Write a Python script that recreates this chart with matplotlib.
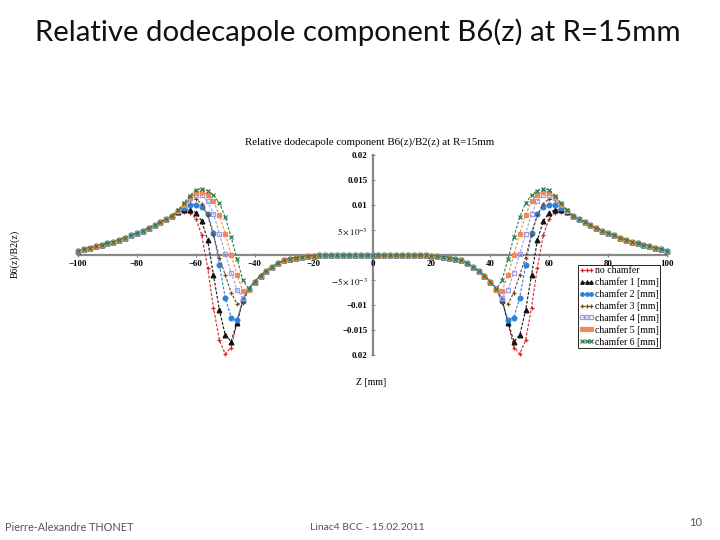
import numpy as np
import matplotlib
matplotlib.use('Agg')
import matplotlib.pyplot as plt

# sampling grid, z >= 0 half (the plot is mirror-symmetric around z = 0)
z_half = np.arange(0, 101, 2)

head = [0.0] * 10 + [-0.0001, -0.0002, -0.0003, -0.0005, -0.0007,
                     -0.0010, -0.0016, -0.0023, -0.0031, -0.0041, -0.0053]   # z = 0..40
tail = [0.0079, 0.0072, 0.0066, 0.0060, 0.0054, 0.0049, 0.0044, 0.0040,
        0.0035, 0.0031, 0.0027, 0.0024, 0.0021, 0.0018, 0.0015, 0.0012, 0.0009]  # z = 68..100

# z = 42..66 for every series
mid_no = [-0.0067, -0.0090, -0.0135, -0.0185, -0.0198, -0.0170, -0.0105,
          -0.0025, 0.0040, 0.0073, 0.0085, 0.0087, 0.0085]
mid_c1 = [-0.0067, -0.0090, -0.0135, -0.0173, -0.0160, -0.0110, -0.0040,
          0.0030, 0.0068, 0.0085, 0.0090, 0.0090, 0.0086]
mid_c2 = [-0.0067, -0.0090, -0.0130, -0.0125, -0.0085, -0.0020, 0.0045,
          0.0082, 0.0097, 0.0101, 0.0100, 0.0095, 0.0088]
mid_c3 = [-0.0067, -0.0095, -0.0098, -0.0075, -0.0040, -0.0005, 0.0040,
          0.0080, 0.0103, 0.0112, 0.0110, 0.0100, 0.0089]
mid_c4 = [-0.0067, -0.0085, -0.0070, -0.0035, 0.0002, 0.0043, 0.0082,
          0.0108, 0.0120, 0.0121, 0.0114, 0.0101, 0.0088]
mid_c5 = [-0.0070, -0.0072, -0.0040, 0.0000, 0.0043, 0.0080, 0.0108,
          0.0121, 0.0127, 0.0125, 0.0116, 0.0102, 0.0089]
mid_c6 = [-0.0068, -0.0050, -0.0008, 0.0036, 0.0076, 0.0104, 0.0120,
          0.0129, 0.0133, 0.0130, 0.0119, 0.0104, 0.0090]

labels = ['no chamfer', 'chamfer 1 [mm]', 'chamfer 2 [mm]', 'chamfer 3 [mm]',
          'chamfer 4 [mm]', 'chamfer 5 [mm]', 'chamfer 6 [mm]']
mids = [mid_no, mid_c1, mid_c2, mid_c3, mid_c4, mid_c5, mid_c6]

colors = ['#d0262a', '#111111', '#2f80d8', '#6b4a26', '#9d9de6', '#f08a55', '#2f7d4a']
markers = ['+', '^', 'o', '+', 's', 's', 'x']

fig = plt.figure(figsize=(7.2, 5.4), dpi=100)
plt.rcParams['mathtext.fontset'] = 'stix'

# slide title and footer
fig.text(0.497, 0.94, 'Relative dodecapole component B6(z) at R=15mm',
         ha='center', va='center', fontsize=21.2, family='Lato', color='#111111')
fig.text(0.007, 0.024, 'Pierre-Alexandre THONET', fontsize=7.8, family='Lato', color='#555555', va='center')
fig.text(0.43, 0.024, 'Linac4 BCC - 15.02.2011', fontsize=7.5, family='Lato', color='#555555', va='center')
fig.text(0.957, 0.032, '10', fontsize=8, family='Lato', color='#555555', va='center')

ax = fig.add_axes([78 / 720, 1 - 355 / 540, 589 / 720, 200 / 540])
ax.set_xlim(-100, 100)
ax.set_ylim(-0.02, 0.02)
ax.patch.set_alpha(0)

z_full = np.concatenate([-z_half[:0:-1], z_half])
for lab, mid, c, m in zip(labels, mids, colors, markers):
    half = np.array(head + mid + tail)
    vals = np.concatenate([half[:0:-1], half])
    face = 'none' if lab == 'chamfer 4 [mm]' else c
    ax.plot(z_full, vals, linestyle=(0, (2.5, 1.5)), linewidth=0.8, color=c,
            marker=m, markersize=3.4, markerfacecolor=face, markeredgecolor=c,
            markeredgewidth=0.9, label=lab, clip_on=False, zorder=3)

# Mathematica-style axes through the origin
for side in ['top', 'right']:
    ax.spines[side].set_visible(False)
ax.spines['left'].set_position(('data', 0))
ax.spines['bottom'].set_position(('data', 0))
for side in ['left', 'bottom']:
    ax.spines[side].set_color('#888888')
    ax.spines[side].set_linewidth(1.6)
    ax.spines[side].set_zorder(1)

ax.set_xticks([-100, -80, -60, -40, -20, 0, 20, 40, 60, 80, 100])
ax.set_xticklabels(['\u2212100', '\u221280', '\u221260', '\u221240', '\u221220', '0',
                    '20', '40', '60', '80', '100'])
ax.set_yticks([-0.02, -0.015, -0.01, -0.005, 0.005, 0.01, 0.015, 0.02])
ax.set_yticklabels(['0.02', '\u22120.015', '\u22120.01', r'$-5\times10^{-3}$',
                    r'$5\times10^{-3}$', '0.01', '0.015', '0.02'])
ax.tick_params(axis='both', labelsize=6.4, colors='#888888', labelcolor='black',
               length=3, width=0.8, direction='inout', pad=2)
for t in ax.get_xticklabels() + ax.get_yticklabels():
    t.set_family('Liberation Serif')
    t.set_fontweight('bold')

fig.text(0.514, 0.737, 'Relative dodecapole component B6(z)/B2(z) at R=15mm',
         ha='center', va='center', fontsize=7.8, family='Liberation Serif')
fig.text(0.516, 0.291, 'Z [mm]', ha='center', va='center', fontsize=7,
         family='Liberation Serif')
fig.text(0.021, 0.53, 'B6(z)/B2(z)', ha='center', va='center', rotation=90,
         fontsize=7.2, family='Liberation Serif')

leg = fig.legend(loc='upper left', bbox_to_anchor=(578 / 720, 1 - 265 / 540),
                 prop={'family': 'Liberation Serif', 'size': 7},
                 frameon=True, fancybox=False, edgecolor='#222222', framealpha=1,
                 borderpad=0.15, labelspacing=0.22, handlelength=1.45, numpoints=3,
                 handletextpad=0.15, borderaxespad=0, markerscale=0.75)
leg.get_frame().set_linewidth(0.7)

fig.savefig('out.png', dpi=100)
